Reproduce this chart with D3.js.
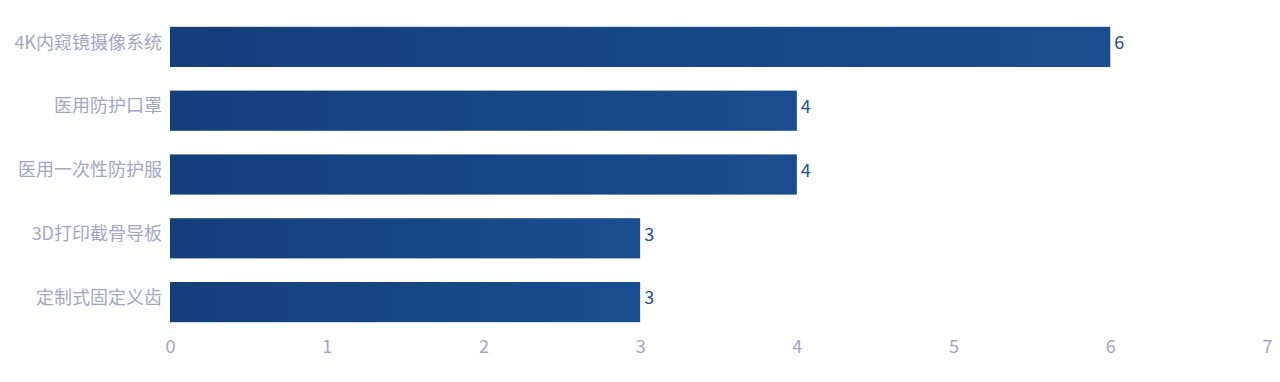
<!DOCTYPE html>
<html><head><meta charset="utf-8">
<script src="https://cdn.jsdelivr.net/npm/d3@7/dist/d3.min.js"></script>
<style>body{margin:0;background:#fff;}svg{display:block;font-family:"Noto Sans CJK SC","Noto Sans",sans-serif;}</style>
</head><body>
<script>
const categories = ["4K内窥镜摄像系统","医用防护口罩","医用一次性防护服","3D打印截骨导板","定制式固定义齿"];
const values = [6,4,4,3,3];
const xTicks = [0,1,2,3,4,5,6,7];

const W=1280,H=382;
const FONT="'Noto Sans CJK SC','Noto Sans',sans-serif";
const svg=d3.select("body").append("svg").attr("width",W).attr("height",H);
const defs=svg.append("defs");
const g=defs.append("linearGradient").attr("id","grad").attr("x1","0").attr("x2","1").attr("y1","0").attr("y2","0");
g.append("stop").attr("offset","0%").attr("stop-color","#143f7b");
g.append("stop").attr("offset","100%").attr("stop-color","#1a4d8f");

const x=d3.scaleLinear().domain([0,7]).range([170,1267]);
const y=d3.scaleBand().domain(categories).range([15,334]).paddingInner(0.37).paddingOuter(0.185);

svg.selectAll("rect.bar").data(categories).join("rect").attr("class","bar")
 .attr("x",x(0)).attr("y",d=>y(d)).attr("height",y.bandwidth())
 .attr("width",(d,i)=>x(values[i])-x(0)).attr("fill","url(#grad)");

svg.selectAll("text.val").data(categories).join("text").attr("class","val")
 .attr("x",(d,i)=>x(values[i])+4).attr("y",d=>y(d)+y.bandwidth()/2-4)
 .attr("dy","0.35em").attr("fill","#1f4f8f").attr("font-size",18).attr("font-family",FONT)
 .text((d,i)=>values[i]);

const xa=svg.append("g").attr("transform","translate(0,338)")
 .call(d3.axisBottom(x).tickValues(xTicks).tickSize(0).tickPadding(2).tickFormat(d3.format("d")));
xa.select(".domain").remove();
xa.selectAll("text").attr("fill","#a2a7c1").attr("font-size",18).attr("font-family",FONT);

const ya=svg.append("g").attr("transform","translate(170,0)")
 .call(d3.axisLeft(y).tickSize(0).tickPadding(8));
ya.select(".domain").remove();
ya.selectAll("text").attr("fill","#a2a7c1").attr("font-size",18).attr("font-family",FONT).attr("dy","0.32em").attr("y",-4);
</script>
</body></html>
